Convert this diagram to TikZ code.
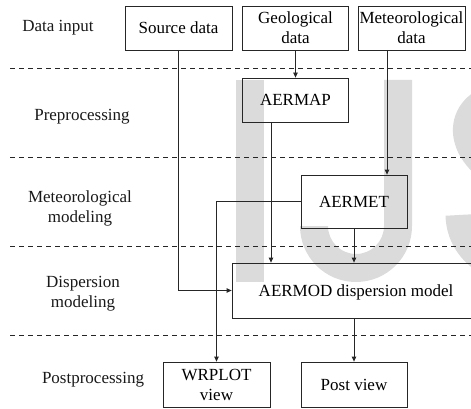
\documentclass[tikz,border=0pt]{standalone}
\usepackage{fontspec}
\setmainfont{Liberation Serif}
\usetikzlibrary{arrows.meta}
\tikzset{
  box/.style={draw=black!85,line width=0.8pt,inner sep=1pt,align=center},
  lab/.style={align=center,text=black!90},
  wm/.style={black!14},
  sep/.style={dash pattern=on 5pt off 4pt,line width=0.7pt,black!85},
  link/.style={-{Triangle[length=5pt,width=4.5pt]},line width=0.8pt,black!85}
}
\begin{document}
\begin{tikzpicture}[x=1pt,y=-1pt,font=\fontsize{17}{20}\selectfont]
\useasboundingbox(0,0)rectangle(471,409);
\clip(0,0)rectangle(471,409);
\fill[wm](236,80)rectangle(264,282);
\fill[wm](384,80)--(412,80)--(412,226)arc[start angle=0,end angle=180,radius=56]--(328,226)arc[start angle=180,end angle=0,radius=28]--cycle;
\draw[wm,line width=27pt](525,95)..controls(465,90)and(450,135)..(485,165);
\draw[wm,line width=27pt](459,215)..controls(460,255)and(500,275)..(530,270);
\foreach \y in {68,157,246,335}{\draw[sep](10,\y)--(471,\y);}
\node[lab](lin)at(58,28){Data input};
\node[lab](lpre)at(82,117){Preprocessing};
\node[lab](lmet)at(80,208){Meteorological\\modeling};
\node[lab](ldis)at(83,294){Dispersion\\modeling};
\node[lab](lpost)at(93,380){Postprocessing};
\node[box,minimum width=107pt,minimum height=44pt](src)at(178.5,28){Source data};
\node[box,minimum width=106pt,minimum height=44pt](geo)at(295.5,28){Geological\\data};
\node[box,minimum width=107pt,minimum height=44pt](met)at(411.5,28){Meteorological\\data};
\node[box,minimum width=106pt,minimum height=44pt](map)at(295.5,100){AERMAP};
\node[box,minimum width=106pt,minimum height=53pt](aermet)at(354,201.5){AERMET};
\node[box,minimum width=250pt,minimum height=55pt,text depth=0pt](aermod)at(357,290.5){AERMOD dispersion model\hspace{2pt}};
\node[box,minimum width=107pt,minimum height=45pt](wrplot)at(216.5,384.5){WRPLOT\\view};
\node[box,minimum width=106pt,minimum height=45pt](post)at(354,384.5){Post view};
\coordinate(metout)at([xshift=-24.5pt]met.south);
\coordinate(mapout)at([xshift=-24.5pt]map.south);
\draw[link](src)|-(aermod);
\draw[link](geo)--(map);
\draw[link](metout)--(metout|-aermet.north);
\draw[link](mapout)--(mapout|-aermod.north);
\draw[link](aermet)--(aermet|-aermod.north);
\draw[link](aermet)-|(wrplot);
\draw[link](aermod.south-|post)--(post);
\end{tikzpicture}
\end{document}
